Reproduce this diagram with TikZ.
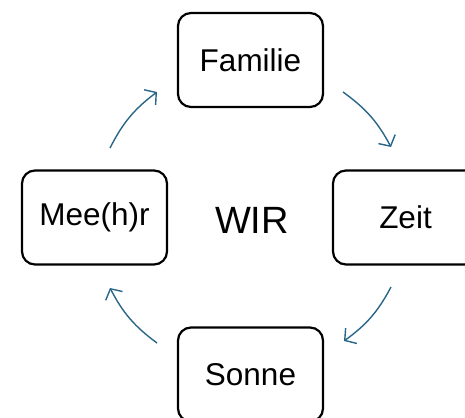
\documentclass[tikz,border=0pt]{standalone}
\usepackage{fontspec}
\setmainfont{Liberation Sans}
\usetikzlibrary{arrows.meta}
\definecolor{pfeil}{HTML}{2A6688}
\begin{document}
\begin{tikzpicture}[x=1pt,y=-1pt,
        kasten/.style={draw,line width=2.2pt,rounded corners=13pt,
            minimum width=145pt,minimum height=94pt,inner sep=0pt,
            font=\fontsize{31.5}{36}\selectfont},
        kreis/.style={pfeil,line width=1.4pt,-{Straight Barb[length=8pt,width=19pt]}}]
        \clip (0,0) rectangle (465,417);

        \node[kasten] (familie) at (250.5,60) {Familie};
        \node[kasten] (zeit) at (405.5,217.5) {Zeit};
        \node[kasten] (sonne) at (250.5,374.5) {Sonne};
        \node[kasten] (meer) at (94.5,217.5) {Mee(h)r};
        \node[font=\fontsize{38}{44}\selectfont] (wir) at (252,220) {WIR};

        \coordinate (a1) at (110,148);
        \coordinate (a2) at (157,92);
        \coordinate (b1) at (343,92);
        \coordinate (b2) at (391,147);
        \coordinate (c1) at (391,287);
        \coordinate (c2) at (344,341);
        \coordinate (d1) at (157,343);
        \coordinate (d2) at (110,288);

        \draw[kreis] (a1) to[bend left=13] (a2);
        \draw[kreis] (b1) to[bend left=13] (b2);
        \draw[kreis] (c1) to[bend left=13] (c2);
        \draw[kreis] (d1) to[bend left=13] (d2);

        \end{tikzpicture}
\end{document}
